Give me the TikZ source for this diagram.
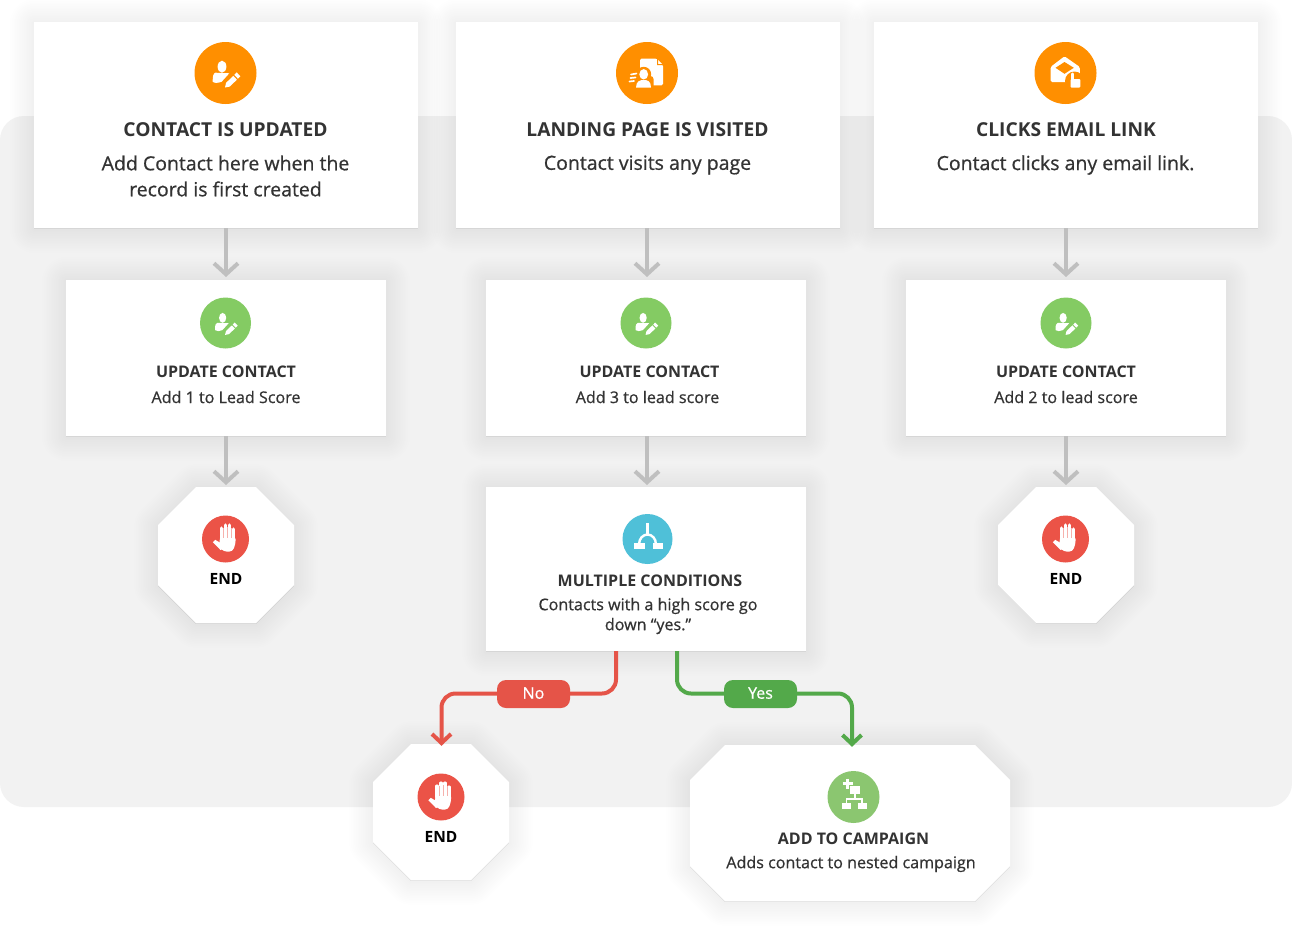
\documentclass[tikz,border=0pt]{standalone}
\usepackage{fontspec}
\setmainfont{Open Sans}
\newfontfamily\bodyfont{Open Sans}[FakeBold=.7]
\usetikzlibrary{arrows.meta,calc}
\definecolor{panelbg}{HTML}{F2F2F2}
\definecolor{inkc}{HTML}{333333}
\definecolor{orangec}{HTML}{FF8F00}
\definecolor{greenc}{HTML}{84CB63}
\definecolor{redc}{HTML}{EB5347}
\definecolor{bluec}{HTML}{4FC0D8}
\definecolor{campc}{HTML}{8BC670}
\definecolor{arrowgray}{HTML}{BFBFBF}
\definecolor{noc}{HTML}{E55448}
\definecolor{yesc}{HTML}{53A94A}
\newcommand{\softshadow}[1]{%
  \begin{scope}[yshift=-1pt]
    \foreach \i in {1,...,14}{%
      \path[fill=black,draw=black,opacity=.004,line width=\i*3.4pt,line join=round] #1;
    }
  \end{scope}}
\newcommand{\whitebox}[5]{% name, x0,y0,x1,y1
  \softshadow{(#2,#3) rectangle (#4,#5)}
  \node[boxnode,minimum width=#4pt-#2pt,minimum height=#5pt-#3pt] (#1) at ({(#2+#4)/2},{(#3+#5)/2}) {};}
\newcommand{\octagon}[6]{% name, x0,y0,x1,y1,cut
  \softshadow{(#2+#6,#3) -- (#4-#6,#3) -- (#4,#3+#6) -- (#4,#5-#6) -- (#4-#6,#5) -- (#2+#6,#5) -- (#2,#5-#6) -- (#2,#3+#6) -- cycle}
  \fill[white] (#2+#6,#3) -- (#4-#6,#3) -- (#4,#3+#6) -- (#4,#5-#6) -- (#4-#6,#5) -- (#2+#6,#5) -- (#2,#5-#6) -- (#2,#3+#6) -- cycle;
  \node[octonode,minimum width=#4pt-#2pt,minimum height=#5pt-#3pt] (#1) at ({(#2+#4)/2},{(#3+#5)/2}) {};}
\tikzset{
  x=1pt,y=-1pt,
  boxnode/.style={fill=white,draw=none,inner sep=0pt,outer sep=0pt,rectangle},
  octonode/.style={draw=none,inner sep=0pt,outer sep=0pt,rectangle},
  disc/.style={circle,inner sep=0pt,outer sep=0pt,draw=none},
  bigtitle/.style={text=inkc,font=\bfseries\fontsize{19.2}{26}\selectfont,inner sep=0pt},
  bigbody/.style={text=inkc,font=\bodyfont\fontsize{19.5}{26}\selectfont,align=center,inner sep=0pt},
  midtitle/.style={text=inkc,font=\bfseries\fontsize{16}{22}\selectfont,inner sep=0pt},
  midbody/.style={text=inkc,font=\bodyfont\fontsize{16.1}{20}\selectfont,align=center,inner sep=0pt},
  endlabel/.style={text=black,font=\bfseries\fontsize{15.5}{20}\selectfont,inner sep=0pt},
  pill/.style={rectangle,rounded corners=9pt,minimum width=73pt,minimum height=28pt,inner sep=0pt,text=white,font=\bodyfont\fontsize{16}{20}\selectfont},
  grayflow/.style={draw=arrowgray,line width=4pt,-{Straight Barb[length=11pt,width=24pt,line width=4pt]}},
  noflow/.style={draw=noc,line width=4pt,rounded corners=14pt},
  yesflow/.style={draw=yesc,line width=4pt,rounded corners=14pt},
  pics/usericon/.style={code={
    \fill[white] (-3.5,-6.3) ellipse [x radius=4.4,y radius=6];
    \fill[white] (-12.8,8.7) .. controls (-13,3) and (-12,0) .. (-10,-.3) -- (3.8,.3) -- (-3.8,8.7) .. controls (-7,10) and (-11,10.5) .. cycle;
    \fill[white] (-.5,14.5) -- (.6,9.8) -- (7.8,2.9) -- (11.4,6.7) -- (4.2,13.6) -- cycle;
    \fill[white] (8.8,1.9) -- (11.2,-.6) -- (14.8,3.2) -- (12.4,5.7) -- cycle;
  }},
  pics/pageicon/.style={code={
    \fill[white,rounded corners=1.5pt] (-7,-14.3) -- (10,-14.3) -- (16,-8) -- (16,12.3) -- (-7,12.3) -- cycle;
    \fill[orangec] (10,-14.3) -- (10,-8) -- (16,-8) -- (16,-9) -- (11,-9) -- (11,-14.3) -- cycle;
    \fill[orangec] (-3.3,1.3) circle [radius=7.5];
    \fill[orangec,rounded corners=3pt] (-13.5,3) rectangle (6.5,17);
    \fill[white] (-3.3,1.3) ellipse [x radius=4.4,y radius=5.2];
    \fill[white] (-11,14.7) .. controls (-11,8) and (-7,7) .. (-3.3,7) .. controls (.5,7) and (4,8) .. (4,14.7) -- cycle;
    \draw[white,line width=1.7pt,line cap=round] (-16,1.5) -- (-10.5,.5) (-16.5,5) -- (-11.5,4.5) (-17.5,8.5) -- (-13,8);
  }},
  pics/mailicon/.style={code={
    \fill[white,rounded corners=1.5pt] (-15,-6) -- (-1,-16.7) -- (14.3,-6) -- (14.3,9) -- (-15,9) -- cycle;
    \fill[orangec] (-10,-5.2) -- (-1,-11) -- (8.3,-5.2) -- (-1,.8) -- cycle;
    \fill[orangec] (9,8) circle [radius=9.5];
    \fill[white,rounded corners=1pt] (5,6) rectangle (14.8,14.6);
    \draw[white,line width=2.6pt,line cap=round] (6.7,.8) -- (6.7,7);
  }},
  pics/handicon/.style={code={
    \fill[white,rounded corners=3pt] (-5.6,-3) -- (10,-3) -- (10,5) -- (7,12.5) -- (-2,12.5) -- (-6,8) -- cycle;
    \fill[white,line cap=round] (-12.7,3.2) -- (-10.3,.8) -- (-3,5) -- (-3,10) -- (-5,11) -- cycle;
    \foreach \fx/\fy in {-4/-11,0/-14,4/-14,8/-10}{
      \draw[white,line width=3.1pt,line cap=round] (\fx,\fy) -- (\fx,0);
    }
    \draw[redc!45,line width=.7pt] (-2,-11) -- (-2,-1) (2,-12) -- (2,-1) (6,-11) -- (6,-1);
  }},
  pics/branchicon/.style={code={
    \draw[white,line width=2.2pt] (0,-15.7) -- (0,-5);
    \draw[white,line width=2.4pt] (-8.4,5) arc [start angle=180,end angle=360,x radius=8.4,y radius=9.5];
    \fill[white] (-13.3,4.3) rectangle (-3,9.6);
    \fill[white] (5,4.3) rectangle (15,9.6);
  }},
  pics/campicon/.style={code={
    \draw[white,line width=2.6pt] (-11,-13.3) -- (-1,-13.3) (-6,-18.3) -- (-6,-8.3);
    \fill[white] (-3.3,-10.7) rectangle (6.7,-3.3);
    \draw[white,line width=1.8pt] (1.7,-3.3) -- (1.7,1.7) (-7,5.7) -- (-7,1.7) -- (8.5,1.7) -- (8.5,5.7);
    \fill[white] (-11.7,5.7) rectangle (-2.7,12.3);
    \fill[white] (4,5.7) rectangle (13,12.3);
  }},
}
\begin{document}
\begin{tikzpicture}
\useasboundingbox (0,0) rectangle (1292,940);
\fill[white] (0,0) rectangle (1292,940);
\fill[panelbg,rounded corners=24pt] (0,116) rectangle (1292,807);

% top cards
\whitebox{t1}{34}{22}{418}{228}
\whitebox{t2}{456}{22}{840}{228}
\whitebox{t3}{874}{22}{1258}{228}
% update cards
\whitebox{m1}{66}{280}{386}{436}
\whitebox{m2}{486}{280}{806}{436}
\whitebox{m3}{906}{280}{1226}{436}
% condition
\whitebox{cond}{486}{487}{806}{651}
% octagons
\octagon{e1}{158}{487}{294}{623}{38}
\octagon{e3}{998}{487}{1134}{623}{38}
\octagon{e2}{373}{744}{509}{880}{38}
\octagon{camp}{690}{745}{1010}{901}{35}

% connector guide coordinates
\coordinate (c1) at (226,0);
\coordinate (c2) at (647,0);
\coordinate (c3) at (1066,0);
\coordinate (tipA) at (0,277);
\coordinate (tipB) at (0,485);
\coordinate (noStart) at (616,0);
\coordinate (yesStart) at (677,0);
\coordinate (flowY) at (0,693.5);
\coordinate (noX) at (441.5,0);
\coordinate (yesX) at (852,0);

% gray connectors
\draw[grayflow] (t1.south -| c1) -- (c1 |- tipA);
\draw[grayflow] (t2.south -| c2) -- (c2 |- tipA);
\draw[grayflow] (t3.south -| c3) -- (c3 |- tipA);
\draw[grayflow] (m1.south -| c1) -- (c1 |- tipB);
\draw[grayflow] (m2.south -| c2) -- (c2 |- tipB);
\draw[grayflow] (m3.south -| c3) -- (c3 |- tipB);

% branch connectors
\draw[noflow] (cond.south -| noStart) -- (noStart |- flowY) -- (noX |- flowY) -- (noX |- e2.north);
\draw[draw=noc,line width=4pt] (noX |- e2.north) ++(-9.5,-10) -- ++(9.5,9) -- ++(9.5,-9);
\draw[yesflow] (cond.south -| yesStart) -- (yesStart |- flowY) -- (yesX |- flowY) -- (yesX |- camp.north);
\draw[draw=yesc,line width=4pt] (yesX |- camp.north) ++(-9.5,-10) -- ++(9.5,9) -- ++(9.5,-9);
\node[pill,fill=noc] (noPill) at (533.5,694) {\raisebox{2pt}{No}};
\node[pill,fill=yesc] (yesPill) at (760.5,694) {\raisebox{2pt}{Yes}};

% icon discs
\node[disc,fill=orangec,minimum size=62pt] (i1) at (225.5,73) {};
\node[disc,fill=orangec,minimum size=62pt] (i2) at (647,73) {};
\node[disc,fill=orangec,minimum size=62pt] (i3) at (1065.5,73) {};
\pic at (i1.center) {usericon};
\pic at (i2.center) {pageicon};
\pic at (i3.center) {mailicon};
\node[disc,fill=greenc,minimum size=51pt] (u1) at (225.5,323) {};
\node[disc,fill=greenc,minimum size=51pt] (u2) at (646,323) {};
\node[disc,fill=greenc,minimum size=51pt] (u3) at (1066,323) {};
\pic[scale=.82] at (u1.center) {usericon};
\pic[scale=.82] at (u2.center) {usericon};
\pic[scale=.82] at (u3.center) {usericon};
\node[disc,fill=redc,minimum size=47pt] (h1) at (225.5,539) {};
\node[disc,fill=redc,minimum size=47pt] (h3) at (1065.5,539) {};
\node[disc,fill=redc,minimum size=47pt] (h2) at (441,797) {};
\pic at (h1.center) {handicon};
\pic at (h3.center) {handicon};
\pic at (h2.center) {handicon};
\node[disc,fill=bluec,minimum size=50pt] (b1) at (647.5,539) {};
\pic at (b1.center) {branchicon};
\node[disc,fill=campc,minimum size=52pt] (k1) at (853.5,797) {};
\pic at (k1.center) {campicon};

% texts
\node[bigtitle] (tt1) at (225.5,130) {CONTACT IS UPDATED};
\node[bigbody] (tb1) at (225.5,176) {Add Contact here when the\\record is first created};
\node[bigtitle] (tt2) at (647.5,130) {LANDING PAGE IS VISITED};
\node[bigbody] (tb2) at (647.5,165) {Contact visits any page};
\node[bigtitle] (tt3) at (1066,130) {CLICKS EMAIL LINK};
\node[bigbody] (tb3) at (1065.5,165) {Contact clicks any email link.};

\node[midtitle] (mt1) at (226,372) {UPDATE CONTACT};
\node[midbody] (mb1) at (226,397) {Add 1 to Lead Score};
\node[midtitle] (mt2) at (649.5,372) {UPDATE CONTACT};
\node[midbody] (mb2) at (647.5,397) {Add 3 to lead score};
\node[midtitle] (mt3) at (1066,372) {UPDATE CONTACT};
\node[midbody] (mb3) at (1066,397) {Add 2 to lead score};

\node[midtitle] (ct) at (650,581) {MULTIPLE CONDITIONS};
\node[midbody] (cb) at (648,616) {Contacts with a high score go\\down “yes.”};

\node[endlabel] (el1) at (226,579) {END};
\node[endlabel] (el3) at (1066,579) {END};
\node[endlabel] (el2) at (441,837) {END};

\node[midtitle] (at) at (853.5,839) {ADD TO CAMPAIGN};
\node[midbody] (ab) at (851,864) {Adds contact to nested campaign};
\end{tikzpicture}
\end{document}
